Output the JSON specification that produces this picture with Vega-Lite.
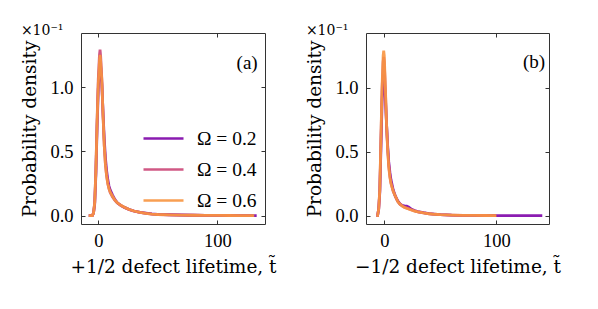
{
"$schema": "https://vega.github.io/schema/vega-lite/v6.json",
"background": "white",
"padding": {"left": 20, "top": 23, "right": 5, "bottom": 5},
"spacing": 28,
"config": {
  "font": "Liberation Serif",
  "view": {"stroke": "#333", "strokeWidth": 1},
  "axis": {"domain": false, "grid": false, "tickSize": -4, "tickColor": "#333", "tickWidth": 1, "labelFontSize": 18.5, "titleFontSize": 18.5, "labelColor": "#000", "titleColor": "#000", "titleFontWeight": "normal", "labelFont": "Liberation Serif", "titleFont": "DejaVu Serif"},
  "legend": {"labelFont": "Liberation Serif", "labelFontSize": 19.5, "labelColor": "#000"}
},
"datasets": {"curves": [
{"panel":"a","omega":"Ω = 0.2","t":-8,"p":0},{"panel":"a","omega":"Ω = 0.2","t":-5,"p":0},{"panel":"a","omega":"Ω = 0.2","t":-4,"p":0.02},{"panel":"a","omega":"Ω = 0.2","t":-3,"p":0.09},{"panel":"a","omega":"Ω = 0.2","t":-2,"p":0.32},{"panel":"a","omega":"Ω = 0.2","t":-1,"p":0.68},{"panel":"a","omega":"Ω = 0.2","t":0,"p":0.98},{"panel":"a","omega":"Ω = 0.2","t":1,"p":1.15},{"panel":"a","omega":"Ω = 0.2","t":1.5,"p":1.2},{"panel":"a","omega":"Ω = 0.2","t":2,"p":1.16},{"panel":"a","omega":"Ω = 0.2","t":3,"p":1.02},{"panel":"a","omega":"Ω = 0.2","t":4,"p":0.8},{"panel":"a","omega":"Ω = 0.2","t":5,"p":0.6},{"panel":"a","omega":"Ω = 0.2","t":6,"p":0.45},{"panel":"a","omega":"Ω = 0.2","t":7,"p":0.35},{"panel":"a","omega":"Ω = 0.2","t":8,"p":0.28},{"panel":"a","omega":"Ω = 0.2","t":9,"p":0.23},{"panel":"a","omega":"Ω = 0.2","t":10,"p":0.2},{"panel":"a","omega":"Ω = 0.2","t":12,"p":0.16},{"panel":"a","omega":"Ω = 0.2","t":14,"p":0.125},{"panel":"a","omega":"Ω = 0.2","t":16,"p":0.1},{"panel":"a","omega":"Ω = 0.2","t":19,"p":0.08},{"panel":"a","omega":"Ω = 0.2","t":22,"p":0.064},{"panel":"a","omega":"Ω = 0.2","t":26,"p":0.048},{"panel":"a","omega":"Ω = 0.2","t":30,"p":0.036},{"panel":"a","omega":"Ω = 0.2","t":35,"p":0.026},{"panel":"a","omega":"Ω = 0.2","t":40,"p":0.019},{"panel":"a","omega":"Ω = 0.2","t":45,"p":0.013},{"panel":"a","omega":"Ω = 0.2","t":50,"p":0.01},{"panel":"a","omega":"Ω = 0.2","t":60,"p":0.007},{"panel":"a","omega":"Ω = 0.2","t":70,"p":0.005},{"panel":"a","omega":"Ω = 0.2","t":80,"p":0.003},{"panel":"a","omega":"Ω = 0.2","t":90,"p":0.002},{"panel":"a","omega":"Ω = 0.2","t":100,"p":0.0015},{"panel":"a","omega":"Ω = 0.2","t":110,"p":0.001},{"panel":"a","omega":"Ω = 0.2","t":120,"p":0.0008},{"panel":"a","omega":"Ω = 0.2","t":133,"p":0.0005},
{"panel":"a","omega":"Ω = 0.4","t":-8,"p":0},{"panel":"a","omega":"Ω = 0.4","t":-5,"p":0},{"panel":"a","omega":"Ω = 0.4","t":-4,"p":0.02},{"panel":"a","omega":"Ω = 0.4","t":-3,"p":0.1},{"panel":"a","omega":"Ω = 0.4","t":-2,"p":0.36},{"panel":"a","omega":"Ω = 0.4","t":-1,"p":0.74},{"panel":"a","omega":"Ω = 0.4","t":0,"p":1.06},{"panel":"a","omega":"Ω = 0.4","t":1,"p":1.25},{"panel":"a","omega":"Ω = 0.4","t":1.5,"p":1.29},{"panel":"a","omega":"Ω = 0.4","t":2,"p":1.24},{"panel":"a","omega":"Ω = 0.4","t":3,"p":1.06},{"panel":"a","omega":"Ω = 0.4","t":4,"p":0.78},{"panel":"a","omega":"Ω = 0.4","t":5,"p":0.55},{"panel":"a","omega":"Ω = 0.4","t":6,"p":0.4},{"panel":"a","omega":"Ω = 0.4","t":7,"p":0.31},{"panel":"a","omega":"Ω = 0.4","t":8,"p":0.25},{"panel":"a","omega":"Ω = 0.4","t":9,"p":0.21},{"panel":"a","omega":"Ω = 0.4","t":10,"p":0.18},{"panel":"a","omega":"Ω = 0.4","t":12,"p":0.145},{"panel":"a","omega":"Ω = 0.4","t":14,"p":0.118},{"panel":"a","omega":"Ω = 0.4","t":16,"p":0.098},{"panel":"a","omega":"Ω = 0.4","t":19,"p":0.078},{"panel":"a","omega":"Ω = 0.4","t":22,"p":0.063},{"panel":"a","omega":"Ω = 0.4","t":26,"p":0.047},{"panel":"a","omega":"Ω = 0.4","t":30,"p":0.035},{"panel":"a","omega":"Ω = 0.4","t":35,"p":0.025},{"panel":"a","omega":"Ω = 0.4","t":40,"p":0.018},{"panel":"a","omega":"Ω = 0.4","t":45,"p":0.012},{"panel":"a","omega":"Ω = 0.4","t":50,"p":0.009},{"panel":"a","omega":"Ω = 0.4","t":60,"p":0.006},{"panel":"a","omega":"Ω = 0.4","t":70,"p":0.004},{"panel":"a","omega":"Ω = 0.4","t":80,"p":0.003},{"panel":"a","omega":"Ω = 0.4","t":90,"p":0.002},{"panel":"a","omega":"Ω = 0.4","t":100,"p":0.0015},{"panel":"a","omega":"Ω = 0.4","t":110,"p":0.001},{"panel":"a","omega":"Ω = 0.4","t":120,"p":0.0008},{"panel":"a","omega":"Ω = 0.4","t":130,"p":0.0005},
{"panel":"a","omega":"Ω = 0.6","t":-8,"p":0},{"panel":"a","omega":"Ω = 0.6","t":-5,"p":0},{"panel":"a","omega":"Ω = 0.6","t":-4,"p":0.02},{"panel":"a","omega":"Ω = 0.6","t":-3,"p":0.1},{"panel":"a","omega":"Ω = 0.6","t":-2,"p":0.35},{"panel":"a","omega":"Ω = 0.6","t":-1,"p":0.72},{"panel":"a","omega":"Ω = 0.6","t":0,"p":1.02},{"panel":"a","omega":"Ω = 0.6","t":1,"p":1.2},{"panel":"a","omega":"Ω = 0.6","t":1.5,"p":1.25},{"panel":"a","omega":"Ω = 0.6","t":2,"p":1.2},{"panel":"a","omega":"Ω = 0.6","t":3,"p":1.05},{"panel":"a","omega":"Ω = 0.6","t":4,"p":0.78},{"panel":"a","omega":"Ω = 0.6","t":5,"p":0.55},{"panel":"a","omega":"Ω = 0.6","t":6,"p":0.4},{"panel":"a","omega":"Ω = 0.6","t":7,"p":0.31},{"panel":"a","omega":"Ω = 0.6","t":8,"p":0.25},{"panel":"a","omega":"Ω = 0.6","t":9,"p":0.21},{"panel":"a","omega":"Ω = 0.6","t":10,"p":0.185},{"panel":"a","omega":"Ω = 0.6","t":12,"p":0.15},{"panel":"a","omega":"Ω = 0.6","t":14,"p":0.12},{"panel":"a","omega":"Ω = 0.6","t":16,"p":0.1},{"panel":"a","omega":"Ω = 0.6","t":19,"p":0.08},{"panel":"a","omega":"Ω = 0.6","t":22,"p":0.065},{"panel":"a","omega":"Ω = 0.6","t":26,"p":0.048},{"panel":"a","omega":"Ω = 0.6","t":30,"p":0.036},{"panel":"a","omega":"Ω = 0.6","t":35,"p":0.026},{"panel":"a","omega":"Ω = 0.6","t":40,"p":0.018},{"panel":"a","omega":"Ω = 0.6","t":45,"p":0.012},{"panel":"a","omega":"Ω = 0.6","t":50,"p":0.009},{"panel":"a","omega":"Ω = 0.6","t":60,"p":0.006},{"panel":"a","omega":"Ω = 0.6","t":70,"p":0.004},{"panel":"a","omega":"Ω = 0.6","t":80,"p":0.003},{"panel":"a","omega":"Ω = 0.6","t":90,"p":0.002},{"panel":"a","omega":"Ω = 0.6","t":100,"p":0.0015},{"panel":"a","omega":"Ω = 0.6","t":110,"p":0.001},{"panel":"a","omega":"Ω = 0.6","t":120,"p":0.0008},{"panel":"a","omega":"Ω = 0.6","t":131,"p":0.0005},
{"panel":"b","omega":"Ω = 0.2","t":-7,"p":0},{"panel":"b","omega":"Ω = 0.2","t":-6,"p":0},{"panel":"b","omega":"Ω = 0.2","t":-5,"p":0.05},{"panel":"b","omega":"Ω = 0.2","t":-4,"p":0.18},{"panel":"b","omega":"Ω = 0.2","t":-3,"p":0.52},{"panel":"b","omega":"Ω = 0.2","t":-2,"p":0.88},{"panel":"b","omega":"Ω = 0.2","t":-1,"p":1.08},{"panel":"b","omega":"Ω = 0.2","t":-0.5,"p":1.1},{"panel":"b","omega":"Ω = 0.2","t":0,"p":1.07},{"panel":"b","omega":"Ω = 0.2","t":1,"p":0.92},{"panel":"b","omega":"Ω = 0.2","t":2,"p":0.72},{"panel":"b","omega":"Ω = 0.2","t":3,"p":0.55},{"panel":"b","omega":"Ω = 0.2","t":4,"p":0.42},{"panel":"b","omega":"Ω = 0.2","t":5,"p":0.34},{"panel":"b","omega":"Ω = 0.2","t":6,"p":0.28},{"panel":"b","omega":"Ω = 0.2","t":8,"p":0.2},{"panel":"b","omega":"Ω = 0.2","t":10,"p":0.15},{"panel":"b","omega":"Ω = 0.2","t":12,"p":0.115},{"panel":"b","omega":"Ω = 0.2","t":14,"p":0.092},{"panel":"b","omega":"Ω = 0.2","t":16,"p":0.08},{"panel":"b","omega":"Ω = 0.2","t":18,"p":0.076},{"panel":"b","omega":"Ω = 0.2","t":20,"p":0.074},{"panel":"b","omega":"Ω = 0.2","t":22,"p":0.066},{"panel":"b","omega":"Ω = 0.2","t":24,"p":0.052},{"panel":"b","omega":"Ω = 0.2","t":27,"p":0.04},{"panel":"b","omega":"Ω = 0.2","t":30,"p":0.032},{"panel":"b","omega":"Ω = 0.2","t":35,"p":0.023},{"panel":"b","omega":"Ω = 0.2","t":40,"p":0.016},{"panel":"b","omega":"Ω = 0.2","t":45,"p":0.012},{"panel":"b","omega":"Ω = 0.2","t":50,"p":0.009},{"panel":"b","omega":"Ω = 0.2","t":60,"p":0.005},{"panel":"b","omega":"Ω = 0.2","t":70,"p":0.003},{"panel":"b","omega":"Ω = 0.2","t":80,"p":0.002},{"panel":"b","omega":"Ω = 0.2","t":90,"p":0.0015},{"panel":"b","omega":"Ω = 0.2","t":100,"p":0.001},{"panel":"b","omega":"Ω = 0.2","t":110,"p":0.0008},{"panel":"b","omega":"Ω = 0.2","t":120,"p":0.0006},{"panel":"b","omega":"Ω = 0.2","t":130,"p":0.0005},{"panel":"b","omega":"Ω = 0.2","t":141,"p":0.0005},
{"panel":"b","omega":"Ω = 0.4","t":-7,"p":0},{"panel":"b","omega":"Ω = 0.4","t":-6,"p":0},{"panel":"b","omega":"Ω = 0.4","t":-5,"p":0.05},{"panel":"b","omega":"Ω = 0.4","t":-4,"p":0.2},{"panel":"b","omega":"Ω = 0.4","t":-3,"p":0.58},{"panel":"b","omega":"Ω = 0.4","t":-2,"p":0.97},{"panel":"b","omega":"Ω = 0.4","t":-1,"p":1.2},{"panel":"b","omega":"Ω = 0.4","t":-0.5,"p":1.24},{"panel":"b","omega":"Ω = 0.4","t":0,"p":1.2},{"panel":"b","omega":"Ω = 0.4","t":1,"p":0.98},{"panel":"b","omega":"Ω = 0.4","t":2,"p":0.72},{"panel":"b","omega":"Ω = 0.4","t":3,"p":0.53},{"panel":"b","omega":"Ω = 0.4","t":4,"p":0.39},{"panel":"b","omega":"Ω = 0.4","t":5,"p":0.31},{"panel":"b","omega":"Ω = 0.4","t":6,"p":0.255},{"panel":"b","omega":"Ω = 0.4","t":8,"p":0.19},{"panel":"b","omega":"Ω = 0.4","t":10,"p":0.148},{"panel":"b","omega":"Ω = 0.4","t":12,"p":0.112},{"panel":"b","omega":"Ω = 0.4","t":14,"p":0.09},{"panel":"b","omega":"Ω = 0.4","t":16,"p":0.076},{"panel":"b","omega":"Ω = 0.4","t":18,"p":0.066},{"panel":"b","omega":"Ω = 0.4","t":21,"p":0.056},{"panel":"b","omega":"Ω = 0.4","t":24,"p":0.046},{"panel":"b","omega":"Ω = 0.4","t":27,"p":0.037},{"panel":"b","omega":"Ω = 0.4","t":30,"p":0.03},{"panel":"b","omega":"Ω = 0.4","t":35,"p":0.022},{"panel":"b","omega":"Ω = 0.4","t":40,"p":0.015},{"panel":"b","omega":"Ω = 0.4","t":45,"p":0.011},{"panel":"b","omega":"Ω = 0.4","t":50,"p":0.008},{"panel":"b","omega":"Ω = 0.4","t":60,"p":0.005},{"panel":"b","omega":"Ω = 0.4","t":70,"p":0.003},{"panel":"b","omega":"Ω = 0.4","t":80,"p":0.002},{"panel":"b","omega":"Ω = 0.4","t":90,"p":0.0015},{"panel":"b","omega":"Ω = 0.4","t":100,"p":0.001},
{"panel":"b","omega":"Ω = 0.6","t":-7,"p":0},{"panel":"b","omega":"Ω = 0.6","t":-6,"p":0},{"panel":"b","omega":"Ω = 0.6","t":-5,"p":0.05},{"panel":"b","omega":"Ω = 0.6","t":-4,"p":0.2},{"panel":"b","omega":"Ω = 0.6","t":-3,"p":0.6},{"panel":"b","omega":"Ω = 0.6","t":-2,"p":1.0},{"panel":"b","omega":"Ω = 0.6","t":-1,"p":1.25},{"panel":"b","omega":"Ω = 0.6","t":-0.5,"p":1.29},{"panel":"b","omega":"Ω = 0.6","t":0,"p":1.25},{"panel":"b","omega":"Ω = 0.6","t":1,"p":1.0},{"panel":"b","omega":"Ω = 0.6","t":2,"p":0.72},{"panel":"b","omega":"Ω = 0.6","t":3,"p":0.52},{"panel":"b","omega":"Ω = 0.6","t":4,"p":0.38},{"panel":"b","omega":"Ω = 0.6","t":5,"p":0.3},{"panel":"b","omega":"Ω = 0.6","t":6,"p":0.25},{"panel":"b","omega":"Ω = 0.6","t":8,"p":0.19},{"panel":"b","omega":"Ω = 0.6","t":10,"p":0.15},{"panel":"b","omega":"Ω = 0.6","t":12,"p":0.11},{"panel":"b","omega":"Ω = 0.6","t":14,"p":0.09},{"panel":"b","omega":"Ω = 0.6","t":16,"p":0.075},{"panel":"b","omega":"Ω = 0.6","t":18,"p":0.065},{"panel":"b","omega":"Ω = 0.6","t":21,"p":0.055},{"panel":"b","omega":"Ω = 0.6","t":24,"p":0.045},{"panel":"b","omega":"Ω = 0.6","t":27,"p":0.036},{"panel":"b","omega":"Ω = 0.6","t":30,"p":0.03},{"panel":"b","omega":"Ω = 0.6","t":35,"p":0.022},{"panel":"b","omega":"Ω = 0.6","t":40,"p":0.015},{"panel":"b","omega":"Ω = 0.6","t":45,"p":0.011},{"panel":"b","omega":"Ω = 0.6","t":50,"p":0.008},{"panel":"b","omega":"Ω = 0.6","t":60,"p":0.005},{"panel":"b","omega":"Ω = 0.6","t":70,"p":0.003},{"panel":"b","omega":"Ω = 0.6","t":80,"p":0.002},{"panel":"b","omega":"Ω = 0.6","t":90,"p":0.0015},{"panel":"b","omega":"Ω = 0.6","t":100,"p":0.001}
]},
"hconcat": [
{
  "width": 184, "height": 191,
  "title": {"text": "×10⁻¹", "anchor": "start", "fontSize": 14, "offset": -5, "font": "DejaVu Serif", "fontWeight": "normal", "color": "#000"},
  "layer": [
    {
      "data": {"name": "curves"},
      "transform": [{"filter": "datum.panel == 'a'"}],
      "mark": {"type": "line", "strokeWidth": 2.8, "opacity": 0.9},
      "encoding": {
        "x": {"field": "t", "type": "quantitative", "scale": {"domain": [-14.5, 140], "nice": false, "zero": false}, "axis": {"values": [0, 100], "title": "+1/2 defect lifetime, t̃", "labelPadding": 11, "titlePadding": 8}},
        "y": {"field": "p", "type": "quantitative", "scale": {"domain": [-0.065, 1.42], "nice": false, "zero": false}, "axis": {"values": [0, 0.5, 1.0], "format": ".1f", "title": "Probability density", "labelPadding": 12, "titlePadding": 10}},
        "color": {"field": "omega", "type": "nominal", "scale": {"domain": ["Ω = 0.2", "Ω = 0.4", "Ω = 0.6"], "range": ["#7e03a8", "#cc4778", "#f89540"]}, "legend": {"orient": "none", "legendX": 61, "legendY": 84, "title": null, "symbolType": "stroke", "symbolSize": 1600, "symbolStrokeWidth": 2.5, "labelOffset": 12, "padding": 0, "rowPadding": -8}}
      }
    },
    {
      "data": {"values": [{"t": 125, "p": 1.19, "label": "(a)"}]},
      "mark": {"type": "text", "fontSize": 19, "font": "Liberation Serif", "color": "#000"},
      "encoding": {
        "x": {"field": "t", "type": "quantitative", "axis": {"orient": "top", "values": [0, 100], "labels": false, "title": null}},
        "y": {"field": "p", "type": "quantitative", "axis": {"orient": "right", "values": [0, 0.5, 1.0], "labels": false, "title": null}},
        "text": {"field": "label"}
      }
    }
  ],
  "resolve": {"axis": {"x": "independent", "y": "independent"}}
},
{
  "width": 183, "height": 191,
  "title": {"text": "×10⁻¹", "anchor": "start", "fontSize": 14, "offset": -5, "font": "DejaVu Serif", "fontWeight": "normal", "color": "#000"},
  "layer": [
    {
      "data": {"name": "curves"},
      "transform": [{"filter": "datum.panel == 'b'"}],
      "mark": {"type": "line", "strokeWidth": 2.8, "opacity": 0.9},
      "encoding": {
        "x": {"field": "t", "type": "quantitative", "scale": {"domain": [-16.3, 147], "nice": false, "zero": false}, "axis": {"values": [0, 100], "title": "−1/2 defect lifetime, t̃", "labelPadding": 11, "titlePadding": 8}},
        "y": {"field": "p", "type": "quantitative", "scale": {"domain": [-0.065, 1.427], "nice": false, "zero": false}, "axis": {"values": [0, 0.5, 1.0], "format": ".1f", "title": "Probability density", "labelPadding": 12, "titlePadding": 10}},
        "color": {"field": "omega", "type": "nominal", "scale": {"domain": ["Ω = 0.2", "Ω = 0.4", "Ω = 0.6"], "range": ["#7e03a8", "#cc4778", "#f89540"]}, "legend": null}
      }
    },
    {
      "data": {"values": [{"t": 133.6, "p": 1.2, "label": "(b)"}]},
      "mark": {"type": "text", "fontSize": 19, "font": "Liberation Serif", "color": "#000"},
      "encoding": {
        "x": {"field": "t", "type": "quantitative", "axis": {"orient": "top", "values": [0, 100], "labels": false, "title": null}},
        "y": {"field": "p", "type": "quantitative", "axis": {"orient": "right", "values": [0, 0.5, 1.0], "labels": false, "title": null}},
        "text": {"field": "label"}
      }
    }
  ],
  "resolve": {"axis": {"x": "independent", "y": "independent"}}
}
],
"resolve": {"scale": {"color": "independent", "x": "independent", "y": "independent"}, "legend": {"color": "independent"}}
}
